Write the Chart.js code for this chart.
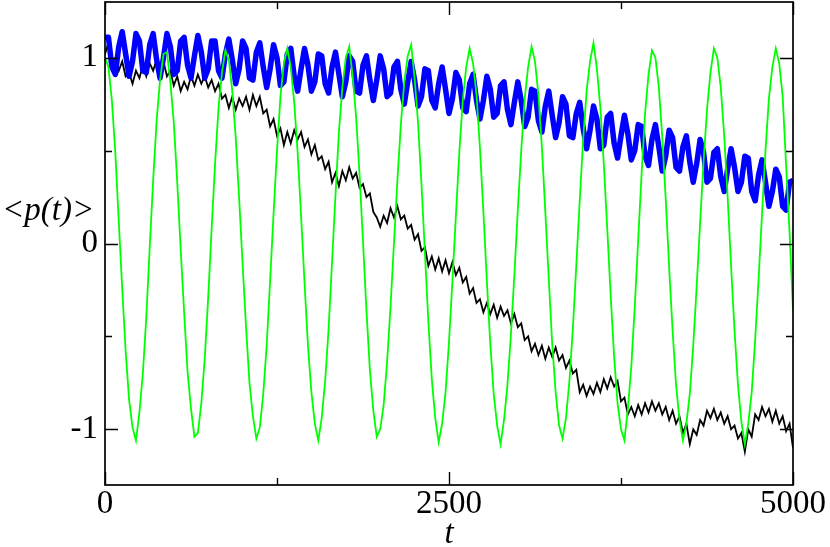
<!DOCTYPE html>
<html><head><meta charset="utf-8">
<script src="https://cdn.jsdelivr.net/npm/chart.js@4.4.1/dist/chart.umd.min.js"></script>
<style>html,body{margin:0;padding:0;background:#fff}#wrap{width:830px;height:547px}</style>
</head><body><div id="wrap"><canvas id="c" width="830" height="547"></canvas></div>
<script>
// sampling interval of t for every series (t = 0, 25, 50, ... 5000)
const tStep = 25;

const greenSeries = [
 1.00, 0.95, 0.77, 0.49, 0.12,-0.24,-0.58,-0.84,-0.99,-1.06,
-0.91,-0.70,-0.40,-0.02, 0.34, 0.66, 0.88, 1.02, 1.03, 0.87,
 0.65, 0.33,-0.03,-0.37,-0.69,-0.89,-1.04,-1.02,-0.86,-0.62,
-0.29, 0.08, 0.43, 0.73, 0.92, 1.04, 0.99, 0.82, 0.57, 0.24,
-0.11,-0.45,-0.75,-0.93,-1.05,-0.99,-0.81,-0.55,-0.20, 0.16,
 0.50, 0.79, 0.97, 1.05, 0.95, 0.76, 0.49, 0.15,-0.21,-0.55,
-0.80,-0.97,-1.06,-0.94,-0.74,-0.46,-0.10, 0.26, 0.60, 0.84,
 1.00, 1.06, 0.90, 0.68, 0.37, 0.01,-0.36,-0.68,-0.90,-1.04,
-1.00,-0.87,-0.64,-0.34, 0.00, 0.34, 0.64, 0.87, 1.01, 1.07,
 0.89, 0.65, 0.32,-0.05,-0.42,-0.73,-0.94,-1.07,-0.97,-0.80,
-0.53,-0.20, 0.15, 0.49, 0.77, 0.95, 1.05, 0.97, 0.80, 0.51,
 0.17,-0.20,-0.54,-0.81,-0.98,-1.08,-0.95,-0.76,-0.49,-0.17,
 0.18, 0.50, 0.78, 0.95, 1.06, 0.98, 0.80, 0.52, 0.17,-0.19,
-0.54,-0.80,-0.98,-1.05,-0.94,-0.74,-0.46,-0.12, 0.23, 0.56,
 0.82, 0.98, 1.08, 0.94, 0.73, 0.43, 0.08,-0.28,-0.61,-0.86,
-1.00,-1.06,-0.89,-0.66,-0.34, 0.02, 0.38, 0.70, 0.91, 1.04,
 1.00, 0.84, 0.57, 0.24,-0.13,-0.47,-0.76,-0.95,-1.06,-0.97,
-0.81,-0.55,-0.23, 0.11, 0.44, 0.72, 0.92, 1.05, 1.00, 0.84,
 0.58, 0.25,-0.12,-0.47,-0.76,-0.96,-1.08,-0.97,-0.80,-0.52,
-0.19, 0.16, 0.50, 0.78, 0.95, 1.05, 0.97, 0.79, 0.42, 0.06,
-0.36];

const blueSeries = [
 1.11, 1.11, 0.95, 0.91, 1.06, 1.14, 1.02, 0.90, 0.98, 1.13,
 1.09, 0.93, 0.92, 1.07, 1.13, 0.99, 0.89, 1.00, 1.13, 1.06,
 0.91, 0.93, 1.09, 1.11, 0.96, 0.89, 1.01, 1.12, 1.03, 0.89,
 0.94, 1.09, 1.09, 0.93, 0.89, 1.02, 1.10, 0.99, 0.86, 0.94,
 1.09, 1.05, 0.89, 0.88, 1.03, 1.08, 0.95, 0.84, 0.94, 1.07,
 1.00, 0.85, 0.87, 1.02, 1.05, 0.90, 0.82, 0.94, 1.05, 0.96,
 0.82, 0.87, 1.02, 1.01, 0.86, 0.81, 0.95, 1.03, 0.91, 0.79,
 0.87, 1.01, 0.98, 0.82, 0.81, 0.96, 1.01, 0.88, 0.77, 0.88,
 1.01, 0.94, 0.79, 0.81, 0.95, 0.98, 0.83, 0.75, 0.87, 0.98,
 0.88, 0.74, 0.79, 0.94, 0.93, 0.77, 0.73, 0.86, 0.95, 0.83,
 0.70, 0.78, 0.92, 0.88, 0.73, 0.71, 0.86, 0.91, 0.77, 0.67,
 0.77, 0.90, 0.83, 0.68, 0.70, 0.85, 0.87, 0.72, 0.64, 0.76,
 0.87, 0.77, 0.63, 0.68, 0.83, 0.82, 0.66, 0.60, 0.74, 0.82,
 0.69, 0.57, 0.65, 0.79, 0.75, 0.58, 0.57, 0.70, 0.76, 0.62,
 0.51, 0.61, 0.74, 0.67, 0.51, 0.53, 0.68, 0.70, 0.54, 0.46,
 0.58, 0.69, 0.59, 0.45, 0.50, 0.64, 0.63, 0.47, 0.42, 0.56,
 0.64, 0.52, 0.39, 0.47, 0.61, 0.57, 0.41, 0.39, 0.52, 0.58,
 0.44, 0.33, 0.43, 0.56, 0.49, 0.33, 0.35, 0.49, 0.51, 0.36,
 0.28, 0.40, 0.51, 0.41, 0.28, 0.33, 0.47, 0.46, 0.28, 0.23,
 0.37, 0.45, 0.33, 0.20, 0.28, 0.40, 0.36, 0.20, 0.18, 0.33,
 0.34];

const blackSeries = [
 1.02, 1.08, 0.97, 1.00, 0.93, 0.98, 0.90, 0.92, 0.86, 0.93,
 0.89, 0.96, 0.90, 0.97, 0.93, 0.99, 0.92, 0.98, 0.90, 0.93,
 0.85, 0.90, 0.82, 0.87, 0.83, 0.90, 0.85, 0.91, 0.86, 0.90,
 0.84, 0.88, 0.82, 0.86, 0.78, 0.80, 0.73, 0.79, 0.72, 0.78,
 0.74, 0.79, 0.72, 0.80, 0.74, 0.79, 0.70, 0.72, 0.63, 0.67,
 0.58, 0.62, 0.53, 0.60, 0.54, 0.61, 0.56, 0.60, 0.52, 0.56,
 0.48, 0.53, 0.45, 0.47, 0.40, 0.44, 0.33, 0.38, 0.31, 0.39,
 0.34, 0.41, 0.35, 0.38, 0.30, 0.32, 0.25, 0.27, 0.17, 0.14,
 0.09, 0.15, 0.11, 0.19, 0.14, 0.20, 0.13, 0.15, 0.08, 0.10,
 0.02, 0.05,-0.04,-0.02,-0.12,-0.07,-0.14,-0.08,-0.15,-0.09,
-0.16,-0.10,-0.17,-0.13,-0.21,-0.18,-0.27,-0.24,-0.32,-0.30,
-0.37,-0.32,-0.38,-0.33,-0.40,-0.34,-0.39,-0.36,-0.43,-0.38,
-0.45,-0.43,-0.52,-0.50,-0.58,-0.54,-0.60,-0.55,-0.62,-0.56,
-0.61,-0.56,-0.63,-0.60,-0.67,-0.63,-0.70,-0.68,-0.80,-0.76,
-0.82,-0.77,-0.81,-0.75,-0.80,-0.73,-0.78,-0.72,-0.77,-0.74,
-0.85,-0.83,-0.92,-0.88,-0.93,-0.87,-0.92,-0.86,-0.91,-0.85,
-0.90,-0.86,-0.92,-0.88,-0.95,-0.90,-0.97,-0.93,-1.02,-0.97,
-1.08,-1.00,-1.03,-0.95,-0.98,-0.90,-0.94,-0.89,-0.95,-0.91,
-0.97,-0.93,-1.00,-0.98,-1.05,-1.02,-1.12,-1.00,-1.04,-0.92,
-0.95,-0.88,-0.93,-0.89,-0.96,-0.90,-0.97,-0.93,-1.01,-0.97,
-1.10];

const xLabelTicks = [0, 2500, 5000];
const xMinorTicks = [1250, 3750];
const yLabelTicks = [-1, 0, 1];
const yMinorTicks = [-0.5, 0.5];
const xRange = [0, 5000];
const yRange = [-1.3, 1.3];
const xTitle = 't';
const yTitle = '<p(t)>';

function toPoints(arr) { return arr.map((v, i) => ({ x: i * tStep, y: v })); }

const SERIF = '"Liberation Serif", "DejaVu Serif", serif';

const framePlugin = {
  id: 'frame',
  afterDatasetsDraw(chart) {
    const { ctx, chartArea: a, scales } = chart;
    const xs = scales.x, ys = scales.y;
    ctx.save();
    ctx.strokeStyle = '#000';
    ctx.lineWidth = 1.7;
    ctx.strokeRect(a.left, a.top, a.right - a.left, a.bottom - a.top);
    ctx.lineWidth = 1.4;
    const major = 13, minor = 7;
    ctx.beginPath();
    const xt = (v, len) => {
      const p = Math.round(xs.getPixelForValue(v)) + 0.5;
      ctx.moveTo(p, a.bottom); ctx.lineTo(p, a.bottom - len);
      ctx.moveTo(p, a.top); ctx.lineTo(p, a.top + len);
    };
    const yt = (v, len) => {
      const p = Math.round(ys.getPixelForValue(v)) + 0.5;
      ctx.moveTo(a.left, p); ctx.lineTo(a.left + len, p);
      ctx.moveTo(a.right, p); ctx.lineTo(a.right - len, p);
    };
    xLabelTicks.forEach(v => xt(v, major));
    xMinorTicks.forEach(v => xt(v, minor));
    yLabelTicks.forEach(v => yt(v, major));
    yMinorTicks.forEach(v => yt(v, minor));
    ctx.stroke();

    ctx.fillStyle = '#000';
    ctx.font = 'italic 33px ' + SERIF;
    ctx.textAlign = 'center';
    ctx.textBaseline = 'alphabetic';
    ctx.fillText(xTitle, (a.left + a.right) / 2, 543);
    ctx.textAlign = 'left';
    ctx.textBaseline = 'middle';
    ctx.fillText(yTitle, 2, 211);
    ctx.restore();
  }
};

new Chart(document.getElementById('c'), {
  type: 'line',
  data: {
    datasets: [
      { label: 'green', data: toPoints(greenSeries), borderColor: '#00ff00', borderWidth: 1.8 },
      { label: 'blue', data: toPoints(blueSeries), borderColor: '#0000ff', borderWidth: 5.5, borderJoinStyle: 'round' },
      { label: 'black', data: toPoints(blackSeries), borderColor: '#000000', borderWidth: 1.8 }
    ]
  },
  options: {
    responsive: false,
    animation: false,
    devicePixelRatio: 1,
    layout: { padding: { top: 2, right: 37, left: 0, bottom: 0 } },
    elements: { point: { radius: 0 }, line: { tension: 0 } },
    plugins: { legend: { display: false }, tooltip: { enabled: false } },
    scales: {
      x: {
        type: 'linear', min: xRange[0], max: xRange[1],
        afterBuildTicks: s => { s.ticks = xLabelTicks.map(v => ({ value: v })); },
        afterFit: s => { s.height = 62; s.paddingLeft = 0; s.paddingRight = 0; s.paddingTop = 0; s.paddingBottom = 0; },
        grid: { display: false, drawTicks: false },
        border: { display: false },
        ticks: { color: '#000', padding: 0, maxRotation: 0, autoSkip: false,
                 callback: v => String(v),
                 font: { family: SERIF, size: 33 } }
      },
      y: {
        type: 'linear', min: yRange[0], max: yRange[1],
        afterBuildTicks: s => { s.ticks = yLabelTicks.map(v => ({ value: v })); },
        afterFit: s => { s.width = 105; s.paddingLeft = 0; s.paddingRight = 0; s.paddingTop = 0; s.paddingBottom = 0; },
        grid: { display: false, drawTicks: false },
        border: { display: false },
        ticks: { color: '#000', padding: 7, autoSkip: false,
                 callback: v => String(v),
                 font: { family: SERIF, size: 33 } }
      }
    }
  },
  plugins: [framePlugin]
});
</script></body></html>
